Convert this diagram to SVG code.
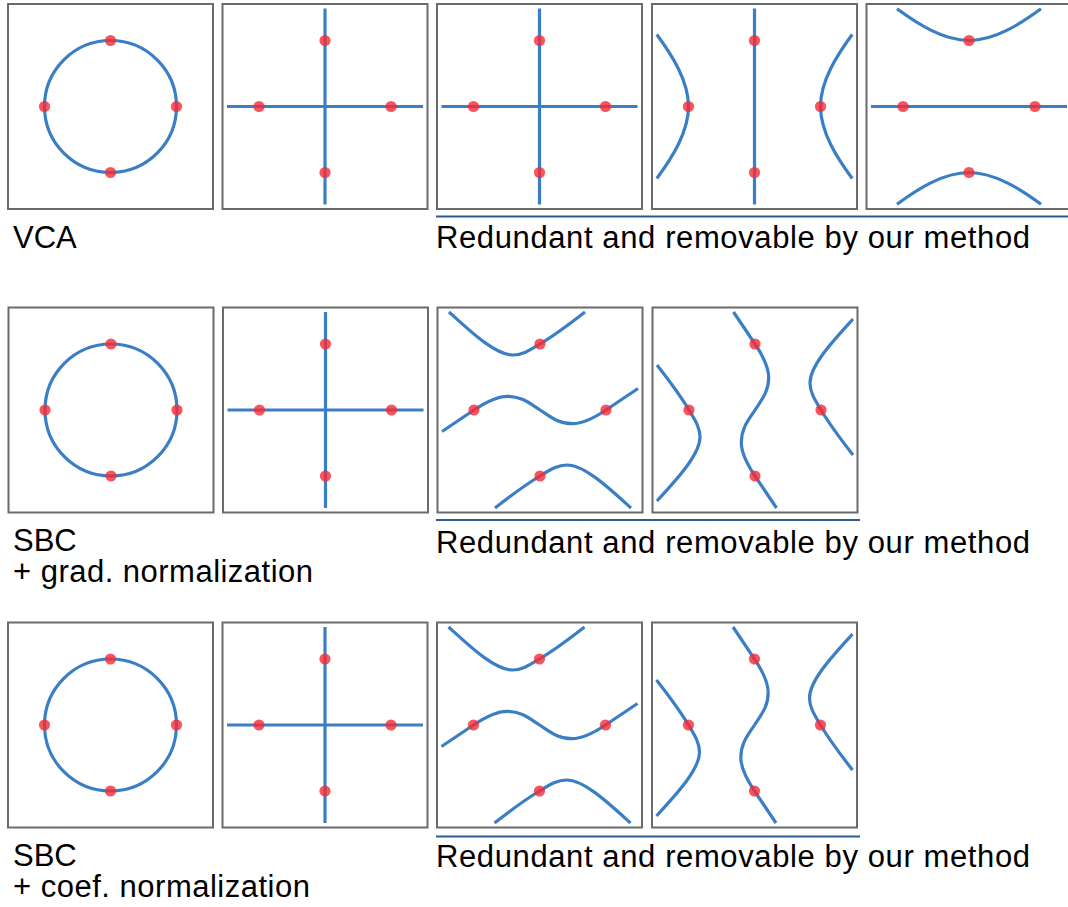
<svg xmlns="http://www.w3.org/2000/svg" xmlns:xlink="http://www.w3.org/1999/xlink" width="1068" height="907" viewBox="0 0 1068 907">
<style>
.frame{fill:#ffffff;stroke:#6b6b6b;stroke-width:2}
.curve{fill:none;stroke:#3a7fc5;stroke-width:3.2}
.dot{fill:#f42b35;fill-opacity:0.8}
.sep{stroke:#2d5c8e;stroke-width:2}
.lbl{font-family:"Liberation Sans",Arial,Helvetica,sans-serif;font-size:31px;fill:#000000}
</style>
<defs>
<g id="dots">
<circle class="dot" cx="-66" cy="0" r="5.6"/>
<circle class="dot" cx="66" cy="0" r="5.6"/>
<circle class="dot" cx="0" cy="-66" r="5.6"/>
<circle class="dot" cx="0" cy="66" r="5.6"/>
</g>
<g id="circ">
<circle class="curve" cx="0" cy="0" r="66"/>
<use xlink:href="#dots"/>
</g>
<g id="cross">
<path class="curve" d="M -98,0 H 98 M 0,-98 V 98"/>
<use xlink:href="#dots"/>
</g>
<g id="hypv">
<path class="curve" d="M 0,-98 V 98 M 97.7,-72 C 83,-52 66,-26 66,0 C 66,26 83,52 97.7,72 M -97.7,-72 C -83,-52 -66,-26 -66,0 C -66,26 -83,52 -97.7,72"/>
<use xlink:href="#dots"/>
</g>
<g id="hyph">
<path class="curve" d="M -98,0 H 98 M -72,-97.7 C -52,-83 -26,-66 0,-66 C 26,-66 52,-83 72,-97.7 M -72,97.7 C -52,83 -26,66 0,66 C 26,66 52,83 72,97.7"/>
<use xlink:href="#dots"/>
</g>
<g id="sbc">
<path class="curve" d="M -91,-98 C -70,-79 -45,-55 -27,-55 C -17,-55 -9,-60.6 0,-66 C 15,-75 30,-86.3 45,-98"/>
<path class="curve" d="M 91,98 C 70,79 45,55 27,55 C 17,55 9,60.6 0,66 C -15,75 -30,86.3 -45,98"/>
<path class="curve" d="M -98,21.5 C -87,14.1 -77,7.4 -66,0 C -55,-7.4 -44,-13.7 -32.5,-13.7 C -18,-13.7 -10,-6.4 0,0 C 10,6.4 18,13.7 32.5,13.7 C 44,13.7 55,7.4 66,0 C 77,-7.4 87,-14.1 98,-21.5"/>
<use xlink:href="#dots"/>
</g>
</defs>

<!-- Row 1: VCA -->
<g id="r1c1"><rect class="frame" x="8" y="4" width="205" height="205"/><use xlink:href="#circ" transform="translate(110.5,106.5)"/></g>
<g id="r1c2"><rect class="frame" x="222.5" y="4" width="205" height="205"/><use xlink:href="#cross" transform="translate(325,106.5)"/></g>
<g id="r1c3"><rect class="frame" x="437" y="4" width="205" height="205"/><use xlink:href="#cross" transform="translate(539.5,106.5)"/></g>
<g id="r1c4"><rect class="frame" x="652" y="4" width="205" height="205"/><use xlink:href="#hypv" transform="translate(754.5,106.5)"/></g>
<g id="r1c5"><rect class="frame" x="866.5" y="4" width="205" height="205"/><use xlink:href="#hyph" transform="translate(969,106.5)"/></g>

<!-- Row 2: SBC + grad. normalization -->
<g id="r2c1"><rect class="frame" x="8.5" y="307.5" width="205" height="205"/><use xlink:href="#circ" transform="translate(111,410)"/></g>
<g id="r2c2"><rect class="frame" x="223" y="307.5" width="205" height="205"/><use xlink:href="#cross" transform="translate(325.5,410)"/></g>
<g id="r2c3"><rect class="frame" x="437.5" y="307.5" width="205" height="205"/><use xlink:href="#sbc" transform="translate(540,410)"/></g>
<g id="r2c4"><rect class="frame" x="652.5" y="307.5" width="205" height="205"/><use xlink:href="#sbc" transform="translate(755,410) rotate(-90)"/></g>

<!-- Row 3: SBC + coef. normalization -->
<g id="r3c1"><rect class="frame" x="8" y="622.5" width="205" height="205"/><use xlink:href="#circ" transform="translate(110.5,725)"/></g>
<g id="r3c2"><rect class="frame" x="222.5" y="622.5" width="205" height="205"/><use xlink:href="#cross" transform="translate(325,725)"/></g>
<g id="r3c3"><rect class="frame" x="437" y="622.5" width="205" height="205"/><use xlink:href="#sbc" transform="translate(539.5,725)"/></g>
<g id="r3c4"><rect class="frame" x="652" y="622.5" width="205" height="205"/><use xlink:href="#sbc" transform="translate(754.5,725) rotate(-90)"/></g>

<g id="connectors">
<line class="sep" x1="436" y1="216.5" x2="1068" y2="216.5"/>
<line class="sep" x1="436" y1="520" x2="860" y2="520"/>
<line class="sep" x1="436" y1="836.5" x2="860" y2="836.5"/>
</g>

<g id="labels">
<text class="lbl" x="13" y="248">VCA</text>
<text class="lbl" x="436" y="248" textLength="594" lengthAdjust="spacing">Redundant and removable by our method</text>
<text class="lbl"><tspan x="13" y="551">SBC</tspan><tspan x="13" y="582" textLength="300" lengthAdjust="spacing">+ grad. normalization</tspan></text>
<text class="lbl" x="436" y="553" textLength="594" lengthAdjust="spacing">Redundant and removable by our method</text>
<text class="lbl"><tspan x="13" y="866">SBC</tspan><tspan x="13" y="897" textLength="297" lengthAdjust="spacing">+ coef. normalization</tspan></text>
<text class="lbl" x="436" y="867" textLength="594" lengthAdjust="spacing">Redundant and removable by our method</text>
</g>
</svg>
